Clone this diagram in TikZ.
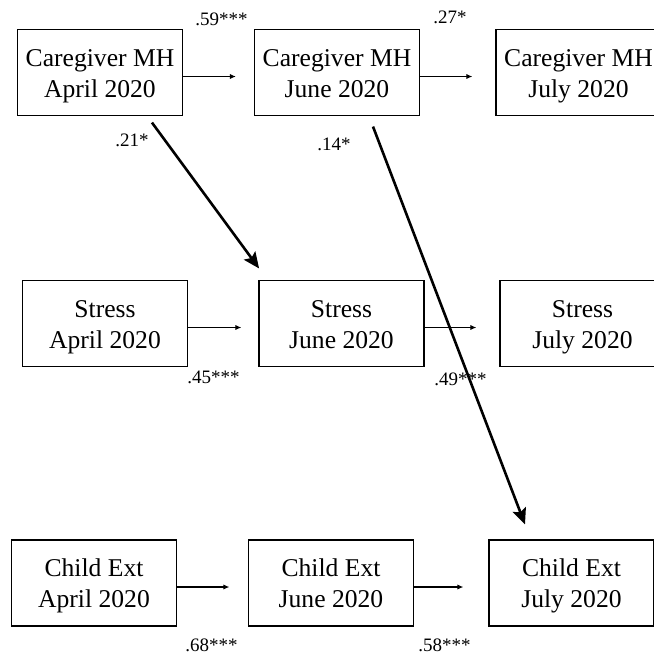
\documentclass[tikz,border=0pt]{standalone}
\usepackage{fontspec}
\setmainfont{Liberation Serif}
\usepackage{tikz}
\usetikzlibrary{arrows.meta}

\begin{document}
\begin{tikzpicture}[x=0.5pt, y=-0.5pt,
  varbox/.style={draw, line width=0.6pt, minimum width=82.5pt, minimum height=43pt, inner sep=0pt, align=center, text height=24.5pt, text depth=0pt, font=\fontsize{12.8}{15.5}\selectfont},
  coef/.style={anchor=base west, inner sep=0pt, font=\fontsize{9.5}{11}\selectfont},
  lag/.style={-{Latex[length=3pt,width=2.6pt]}, line width=0.55pt},
  cross/.style={-{Stealth[length=8pt,width=7pt,inset=1.5pt]}, line width=1.3pt}]
\clip (0,0) rectangle (654,660);
% caregiver row
\node[varbox] (cg1) at (100,72.5) {Caregiver MH\\April 2020};
\node[varbox] (cg2) at (337,72.5) {Caregiver MH\\June 2020};
\node[varbox] (cg3) at (578.5,72.5) {Caregiver MH\\July 2020};
% stress row
\node[varbox] (st1) at (105,323.5) {Stress\\April 2020};
\node[varbox] (st2) at (341.5,323.5) {Stress\\June 2020};
\node[varbox] (st3) at (582.5,323.5) {Stress\\July 2020};
% child row
\node[varbox] (ce1) at (94,583) {Child Ext\\April 2020};
\node[varbox] (ce2) at (331,583) {Child Ext\\June 2020};
\node[varbox] (ce3) at (571.5,583) {Child Ext\\July 2020};
% stability paths
\draw[lag, shorten >=9pt] ([yshift=-2pt]cg1.east) -- ([yshift=-2pt]cg2.west);
\draw[lag, shorten >=11.5pt] ([yshift=-2pt]cg2.east) -- ([yshift=-2pt]cg3.west);
\draw[lag, shorten >=8.5pt] ([yshift=-2pt]st1.east) -- ([yshift=-2pt]st2.west);
\draw[lag, shorten >=11.5pt] ([yshift=-2pt]st2.east) -- ([yshift=-2pt]st3.west);
\draw[lag, shorten >=9.25pt] ([yshift=-2pt]ce1.east) -- ([yshift=-2pt]ce2.west);
\draw[lag, shorten >=12.5pt] ([yshift=-2pt]ce2.east) -- ([yshift=-2pt]ce3.west);
% coefficients
\node[coef] (b1) at (195,25) {.59***};
\node[coef] (b2) at (433,23) {.27*};
\node[coef] (b3) at (115,146) {.21*};
\node[coef] (b4) at (317,150) {.14*};
\node[coef] (b5) at (187,383) {.45***};
\node[coef] (b6) at (434,385) {.49***};
\node[coef] (b7) at (185,651) {.68***};
\node[coef] (b8) at (418,651) {.58***};
% cross-lagged paths
\draw[cross, shorten <=4pt, shorten >=7.1pt] ([xshift=23.6pt]cg1.south) -- ([xshift=-37pt]st2.north);
\draw[cross, shorten <=5.6pt, shorten >=8pt] ([xshift=16pt]cg2.south) -- ([xshift=-20.4pt]ce3.north);
\end{tikzpicture}
\end{document}
